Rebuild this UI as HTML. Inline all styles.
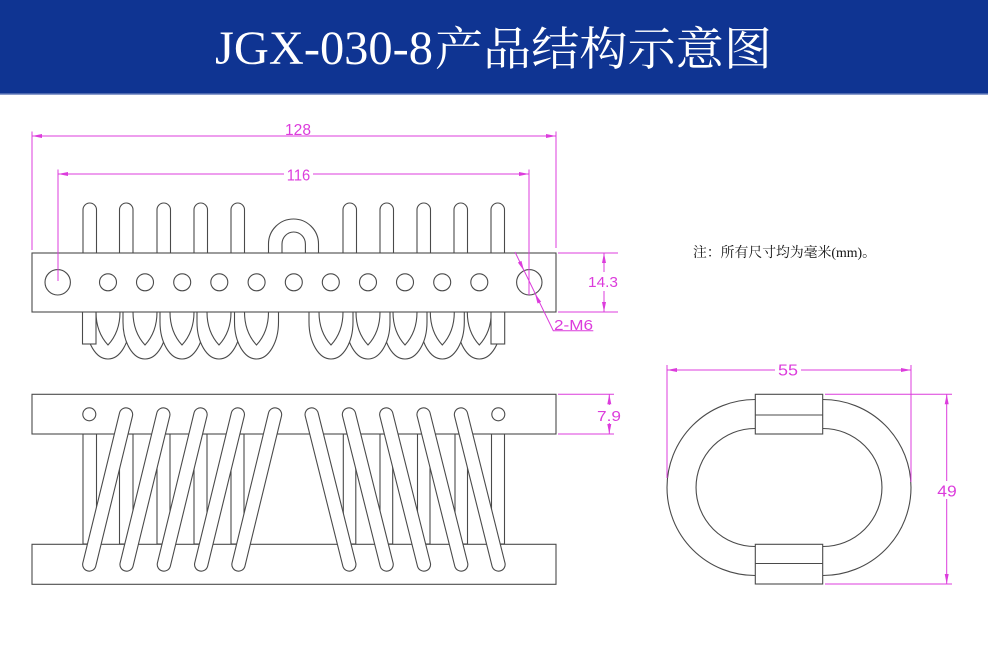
<!DOCTYPE html>
<html>
<head>
<meta charset="utf-8">
<style>
  html,body{margin:0;padding:0;background:#fff;}
  body{width:988px;height:646px;overflow:hidden;}
  svg{display:block;}
</style>
</head>
<body>
<svg width="988" height="646" viewBox="0 0 988 646" xmlns="http://www.w3.org/2000/svg">
  <!-- header -->
  <rect x="0" y="0" width="988" height="94" fill="#0f3492"/>
  <rect x="0" y="93.5" width="988" height="1.5" fill="#8a9ccc"/>
  <text x="215" y="64" font-family="Liberation Serif, serif" font-size="48" fill="#ffffff" textLength="218" lengthAdjust="spacingAndGlyphs">JGX-030-8</text>
  <text x="435" y="65" font-family="Liberation Serif, 'Noto Serif CJK SC', serif" font-size="46" fill="#ffffff" textLength="337" lengthAdjust="spacingAndGlyphs">产品结构示意图</text>

  <g fill="#fff" stroke="#4a4a4a" stroke-width="1.1">
    <!-- TOP VIEW: fingers above bar -->
    <path d="M83 253 V209.75 A6.75 6.75 0 0 1 96.5 209.75 V253"/>
    <path d="M119.5 253 V209.75 A6.75 6.75 0 0 1 133 209.75 V253"/>
    <path d="M157 253 V209.75 A6.75 6.75 0 0 1 170.5 209.75 V253"/>
    <path d="M194 253 V209.75 A6.75 6.75 0 0 1 207.5 209.75 V253"/>
    <path d="M231 253 V209.75 A6.75 6.75 0 0 1 244.5 209.75 V253"/>
    <path d="M343 253 V209.75 A6.75 6.75 0 0 1 356.5 209.75 V253"/>
    <path d="M380 253 V209.75 A6.75 6.75 0 0 1 393.5 209.75 V253"/>
    <path d="M417 253 V209.75 A6.75 6.75 0 0 1 430.5 209.75 V253"/>
    <path d="M454 253 V209.75 A6.75 6.75 0 0 1 467.5 209.75 V253"/>
    <path d="M491 253 V209.75 A6.75 6.75 0 0 1 504.5 209.75 V253"/>
    <!-- middle arch -->
    <path d="M268.5 253 V244 A25 25 0 0 1 318.5 244 V253"/>
    <path d="M282 253 V244 A11.7 12 0 0 1 305.4 244 V253"/>

    <!-- loops below bar, left group -->
    <path d="M86 312 V322 A22 37 0 0 0 130 322 V312"/><path d="M96 312 Q96 332 108 345 Q120 332 120 312"/>
    <path d="M123 312 V322 A22 37 0 0 0 167 322 V312"/><path d="M133 312 Q133 332 145 345 Q157 332 157 312"/>
    <path d="M160 312 V322 A22 37 0 0 0 204 322 V312"/><path d="M170 312 Q170 332 182 345 Q194 332 194 312"/>
    <path d="M197 312 V322 A22 37 0 0 0 241 322 V312"/><path d="M207 312 Q207 332 219 345 Q231 332 231 312"/>
    <path d="M234.5 312 V322 A22 37 0 0 0 278.5 322 V312"/><path d="M244.5 312 Q244.5 332 256.5 345 Q268.5 332 268.5 312"/>
    <rect x="82.5" y="305" width="13.5" height="39"/>
    <!-- right group -->
    <path d="M457.3 312 V322 A22 37 0 0 0 501.3 322 V312"/><path d="M467.3 312 Q467.3 332 479.3 345 Q491.3 332 491.3 312"/>
    <path d="M420.3 312 V322 A22 37 0 0 0 464.3 322 V312"/><path d="M430.3 312 Q430.3 332 442.3 345 Q454.3 332 454.3 312"/>
    <path d="M383 312 V322 A22 37 0 0 0 427 322 V312"/><path d="M393 312 Q393 332 405 345 Q417 332 417 312"/>
    <path d="M346 312 V322 A22 37 0 0 0 390 322 V312"/><path d="M356 312 Q356 332 368 345 Q380 332 380 312"/>
    <path d="M309 312 V322 A22 37 0 0 0 353 322 V312"/><path d="M319 312 Q319 332 331 345 Q343 332 343 312"/>
    <rect x="491" y="305" width="13.7" height="39"/>

    <!-- bar -->
    <rect x="32" y="253" width="524" height="59"/>
    <circle cx="57.7" cy="282.3" r="12.7"/>
    <circle cx="529.3" cy="282.3" r="12.7"/>
    <circle cx="108" cy="282.3" r="8.5"/>
    <circle cx="145" cy="282.3" r="8.5"/>
    <circle cx="182.2" cy="282.3" r="8.5"/>
    <circle cx="219.3" cy="282.3" r="8.5"/>
    <circle cx="256.6" cy="282.3" r="8.5"/>
    <circle cx="293.8" cy="282.3" r="8.5"/>
    <circle cx="330.8" cy="282.3" r="8.5"/>
    <circle cx="368" cy="282.3" r="8.5"/>
    <circle cx="405" cy="282.3" r="8.5"/>
    <circle cx="442.2" cy="282.3" r="8.5"/>
    <circle cx="479.3" cy="282.3" r="8.5"/>

    <!-- SIDE VIEW -->
    <rect x="83" y="434" width="13.5" height="110"/>
    <rect x="119.5" y="434" width="13.5" height="110"/>
    <rect x="157" y="434" width="13" height="110"/>
    <rect x="194" y="434" width="13" height="110"/>
    <rect x="231" y="434" width="13" height="110"/>
    <rect x="343.3" y="434" width="12.5" height="110"/>
    <rect x="380" y="434" width="12.7" height="110"/>
    <rect x="417.5" y="434" width="12.5" height="110"/>
    <rect x="455" y="434" width="12.5" height="110"/>
    <rect x="491.5" y="434" width="13" height="110"/>
    <rect x="32" y="394.3" width="524" height="39.7"/>
    <rect x="32" y="544.3" width="524" height="40"/>
    <circle cx="89.3" cy="414.3" r="6.5"/>
    <circle cx="498.3" cy="414.3" r="6.5"/>
  </g>

  <!-- rods -->
  <g stroke-linecap="round">
    <g stroke="#4a4a4a" stroke-width="14.4">
      <line x1="126" y1="414.5" x2="89.3" y2="564.5"/>
      <line x1="163.3" y1="414.5" x2="126.6" y2="564.5"/>
      <line x1="200.5" y1="414.5" x2="163.9" y2="564.5"/>
      <line x1="237.8" y1="414.5" x2="201.2" y2="564.5"/>
      <line x1="275" y1="414.5" x2="238.5" y2="564.5"/>
      <line x1="311.7" y1="414.5" x2="349.3" y2="564.5"/>
      <line x1="349" y1="414.5" x2="386.6" y2="564.5"/>
      <line x1="386.3" y1="414.5" x2="423.9" y2="564.5"/>
      <line x1="423.6" y1="414.5" x2="461.2" y2="564.5"/>
      <line x1="461" y1="414.5" x2="498.5" y2="564.5"/>
    </g>
    <g stroke="#ffffff" stroke-width="12.2">
      <line x1="126" y1="414.5" x2="89.3" y2="564.5"/>
      <line x1="163.3" y1="414.5" x2="126.6" y2="564.5"/>
      <line x1="200.5" y1="414.5" x2="163.9" y2="564.5"/>
      <line x1="237.8" y1="414.5" x2="201.2" y2="564.5"/>
      <line x1="275" y1="414.5" x2="238.5" y2="564.5"/>
      <line x1="311.7" y1="414.5" x2="349.3" y2="564.5"/>
      <line x1="349" y1="414.5" x2="386.6" y2="564.5"/>
      <line x1="386.3" y1="414.5" x2="423.9" y2="564.5"/>
      <line x1="423.6" y1="414.5" x2="461.2" y2="564.5"/>
      <line x1="461" y1="414.5" x2="498.5" y2="564.5"/>
    </g>
  </g>

  <!-- END VIEW -->
  <g fill="none" stroke="#4a4a4a" stroke-width="1.1">
    <path d="M755 399.5 A88 88 0 0 0 755 575.5"/>
    <path d="M755 428.5 A59 59 0 0 0 755 546.5"/>
    <path d="M823 399.5 A88 88 0 0 1 823 575.5"/>
    <path d="M823 428.5 A59 59 0 0 1 823 546.5"/>
    <rect x="755.3" y="394.3" width="67.4" height="39.7" fill="#fff"/>
    <line x1="755.3" y1="415" x2="822.7" y2="415"/>
    <rect x="755.3" y="544.3" width="67.4" height="39.7" fill="#fff"/>
    <line x1="755.3" y1="563.5" x2="822.7" y2="563.5"/>
  </g>

  <!-- DIMENSIONS -->
  <g stroke="#dc3cdc" stroke-width="1" fill="none">
    <!-- 128 -->
    <line x1="32" y1="131.5" x2="32" y2="250"/>
    <line x1="556" y1="131.5" x2="556" y2="248"/>
    <line x1="32" y1="136" x2="556" y2="136"/>
    <!-- 116 -->
    <line x1="58" y1="169.5" x2="58" y2="281"/>
    <line x1="529" y1="169.5" x2="529" y2="295"/>
    <line x1="58" y1="174" x2="284" y2="174"/>
    <line x1="313" y1="174" x2="529" y2="174"/>
    <!-- 14.3 -->
    <line x1="558" y1="253" x2="618" y2="253"/>
    <line x1="558" y1="312" x2="618" y2="312"/>
    <line x1="604" y1="253" x2="604" y2="272"/>
    <line x1="604" y1="291" x2="604" y2="312"/>
    <!-- 2-M6 -->
    <polyline points="515,252 553.3,330.7 593.3,330.7"/>
    <!-- 7.9 -->
    <line x1="558" y1="394.3" x2="614" y2="394.3"/>
    <line x1="558" y1="434" x2="614" y2="434"/>
    <line x1="609.3" y1="394.3" x2="609.3" y2="405"/>
    <line x1="609.3" y1="423" x2="609.3" y2="434"/>
    <!-- 55 -->
    <line x1="667" y1="365" x2="667" y2="478"/>
    <line x1="911" y1="365" x2="911" y2="482"/>
    <line x1="667" y1="370" x2="775" y2="370"/>
    <line x1="801" y1="370" x2="911" y2="370"/>
    <!-- 49 -->
    <line x1="825" y1="394.3" x2="952" y2="394.3"/>
    <line x1="825" y1="584" x2="952" y2="584"/>
    <line x1="946.7" y1="394.3" x2="946.7" y2="481"/>
    <line x1="946.7" y1="499" x2="946.7" y2="584"/>
  </g>
  <g fill="#dc3cdc">
    <polygon points="32,136 42,134 42,138"/>
    <polygon points="556,136 546,134 546,138"/>
    <polygon points="58,174 68,172 68,176"/>
    <polygon points="529,174 519,172 519,176"/>
    <polygon points="604,253 602,263 606,263"/>
    <polygon points="604,312 602,302 606,302"/>
    <polygon points="609.3,394.3 607.3,404.3 611.3,404.3"/>
    <polygon points="609.3,434 607.3,424 611.3,424"/>
    <polygon points="667,370 677,368 677,372"/>
    <polygon points="911,370 901,368 901,372"/>
    <polygon points="946.7,394.3 944.7,404.3 948.7,404.3"/>
    <polygon points="946.7,584 944.7,574 948.7,574"/>
    <polygon points="524,270.7 521.47,260.82 517.87,262.56"/>
    <polygon points="535,293.6 541.13,301.74 537.53,303.48"/>
  </g>
  <g fill="#dc3cdc" font-family="Liberation Sans, sans-serif" font-size="16" text-anchor="middle">
    <text x="298" y="135" textLength="26" lengthAdjust="spacingAndGlyphs">128</text>
    <text x="298.5" y="180.5" textLength="23.5" lengthAdjust="spacingAndGlyphs">116</text>
    <text x="603" y="287" font-size="15" textLength="30" lengthAdjust="spacingAndGlyphs">14.3</text>
    <text x="573.5" y="330" font-size="15" textLength="39" lengthAdjust="spacingAndGlyphs">2-M6</text>
    <text x="609" y="421" font-size="15" textLength="24" lengthAdjust="spacingAndGlyphs">7.9</text>
    <text x="788" y="375.7" textLength="20" lengthAdjust="spacingAndGlyphs">55</text>
    <text x="947" y="496.7" textLength="19.5" lengthAdjust="spacingAndGlyphs">49</text>
  </g>

  <!-- note -->
  <text x="693" y="257" font-family="Liberation Serif, 'Noto Serif CJK SC', serif" font-size="14" fill="#111" textLength="183" lengthAdjust="spacingAndGlyphs">注：所有尺寸均为毫米(mm)。</text>
</svg>
</body>
</html>
